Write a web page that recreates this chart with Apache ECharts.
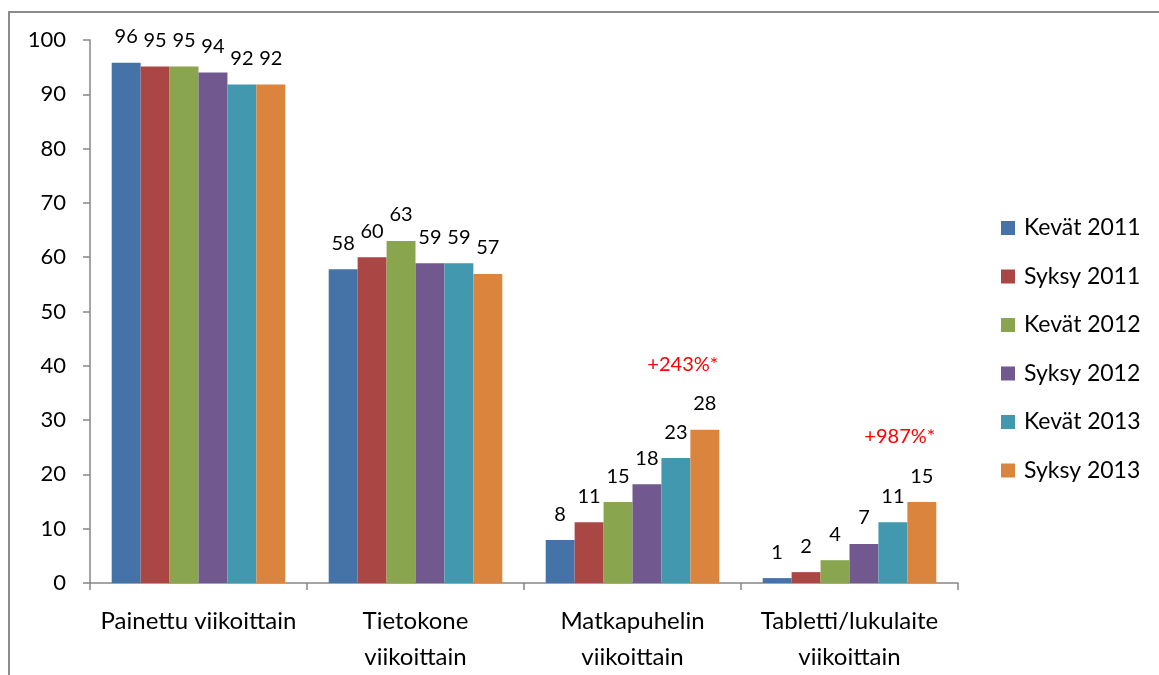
<!DOCTYPE html>
<html>
<head>
<meta charset="utf-8">
<script src="https://cdn.jsdelivr.net/npm/echarts@6/dist/echarts.min.js"></script>
<style>html,body{margin:0;padding:0;background:#fff}#c{width:1159px;height:675px}</style>
</head>
<body>
<div id="c"></div>
<script>
const categories = ['Painettu viikoittain', 'Tietokone\nviikoittain', 'Matkapuhelin\nviikoittain', 'Tabletti/lukulaite\nviikoittain'];
const seriesNames = ['Kevät 2011', 'Syksy 2011', 'Kevät 2012', 'Syksy 2012', 'Kevät 2013', 'Syksy 2013'];
const kevat2011 = [95.8, 57.8, 7.9, 0.9];
const syksy2011 = [95.1, 60.0, 11.2, 2.0];
const kevat2012 = [95.1, 63.0, 14.9, 4.2];
const syksy2012 = [94.0, 58.9, 18.2, 7.2];
const kevat2013 = [91.8, 58.9, 23.0, 11.2];
const syksy2013 = [91.8, 56.9, 28.2, 14.9];
const yTicks = [0, 10, 20, 30, 40, 50, 60, 70, 80, 90, 100];
const annotations = [
  { text: '+243%*', category: 'Matkapuhelin\nviikoittain', value: 40.3 },
  { text: '+987%*', category: 'Tabletti/lukulaite\nviikoittain', value: 26.9 }
];
const colors = ['#4572A7', '#AA4643', '#89A54E', '#71588F', '#4198AF', '#DB843D'];
const allValues = [kevat2011, syksy2011, kevat2012, syksy2012, kevat2013, syksy2013];
const FONT = 'Lato, "Open Sans", sans-serif';

const series = seriesNames.map((name, i) => ({
  name: name,
  type: 'bar',
  data: allValues[i],
  barGap: '0%',
  barCategoryGap: '20%',
  itemStyle: { color: colors[i] },
  label: {
    show: true,
    position: 'top',
    distance: 16,
    fontFamily: FONT,
    fontSize: 20,
    lineHeight: 20,
    color: '#000',
    formatter: p => Math.round(p.value)
  }
}));
series[5].markPoint = {
  symbol: 'circle',
  symbolSize: 0,
  label: {
    show: true,
    position: 'inside',
    offset: [-22, 0],
    formatter: '{b}',
    color: '#FF0000',
    fontFamily: FONT,
    fontSize: 20
  },
  data: annotations.map(a => ({ name: a.text, coord: [a.category, a.value] }))
};

const chart = echarts.init(document.getElementById('c'));
chart.setOption({
  animation: false,
  color: colors,
  grid: { left: 90, right: 201, top: 40, bottom: 92 },
  legend: {
    orient: 'vertical',
    left: 1001,
    top: 216,
    padding: 0,
    icon: 'rect',
    itemWidth: 14,
    itemHeight: 14,
    itemGap: 24.5,
    textStyle: { fontFamily: FONT, fontSize: 23, color: '#000', lineHeight: 24, padding: [0, 0, 0, 4] },
    data: seriesNames
  },
  xAxis: {
    type: 'category',
    data: categories,
    axisLine: { lineStyle: { color: '#868686', width: 1.5 } },
    axisTick: { show: true, length: 7, lineStyle: { color: '#868686', width: 1.5 } },
    axisLabel: { interval: 0, hideOverlap: false, fontFamily: FONT, fontSize: 24, color: '#000', margin: 20, lineHeight: 36 }
  },
  yAxis: {
    type: 'value',
    min: yTicks[0],
    max: yTicks[yTicks.length - 1],
    interval: yTicks[1] - yTicks[0],
    axisLine: { show: true, lineStyle: { color: '#868686', width: 1.5 } },
    axisTick: { show: true, length: 7, lineStyle: { color: '#868686', width: 1.5 } },
    splitLine: { show: false },
    axisLabel: { fontFamily: FONT, fontSize: 22, color: '#000', margin: 24 }
  },
  graphic: [{
    type: 'rect',
    shape: { x: 9, y: 12, width: 1300, height: 800 },
    style: { fill: 'none', stroke: '#8c8c8c', lineWidth: 2 },
    z: -1
  }],
  series: series
});
</script>
</body>
</html>
